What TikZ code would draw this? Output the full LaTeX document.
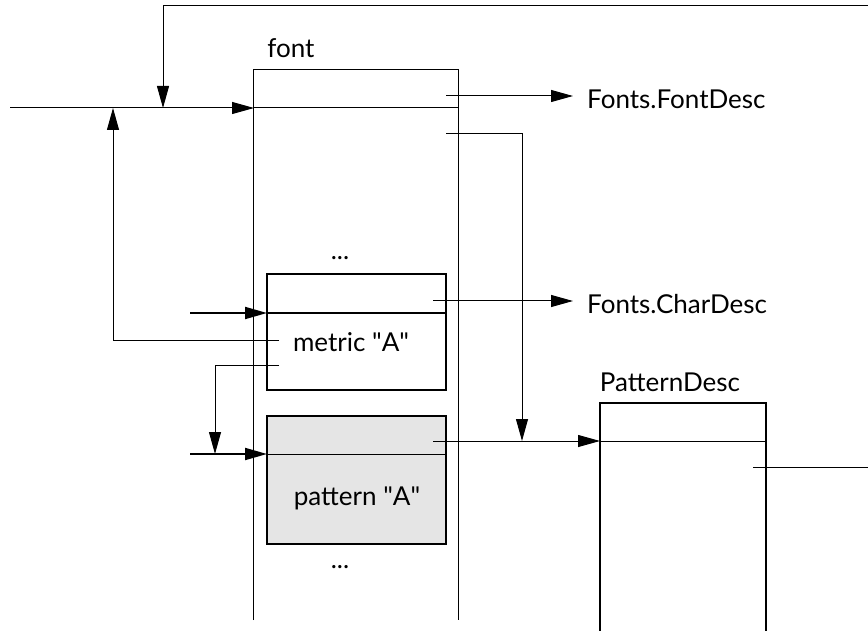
\documentclass[tikz,border=0pt]{standalone}
\usepackage{fontspec}
\setmainfont{Lato}
\usetikzlibrary{arrows.meta}

\begin{document}
\begin{tikzpicture}[x=1pt,y=-1pt]
\tikzstyle{every node}+=[inner sep=0pt,font=\fontsize{26}{30}\selectfont]
\tikzstyle{wire}=[line width=1pt]
\tikzstyle{arr}=[line width=1pt,-{Triangle[length=22pt,width=12pt]}]
\tikzstyle{thickarr}=[line width=2pt,-{Triangle[length=22pt,width=12pt]}]
\tikzstyle{rec}=[draw,line width=2pt,minimum width=179pt]
\useasboundingbox (0,0) rectangle (868,631);
% boxes
\node [minimum width=204pt,minimum height=550pt] (fontbox) at (356,345) {};
\draw [wire] (fontbox.south west) |- (fontbox.north east) -- (fontbox.south east);
\node [anchor=base] (fontlbl) at (291,58) {font};
\node [rec,fill=white,minimum height=116pt] (metric) at (356.5,332) {};
\node [rec,fill=gray!20,minimum height=128pt] (pattern) at (356.5,480) {};
\node [minimum width=166pt,minimum height=240pt] (patdesc) at (683,523) {};
\draw [line width=2pt] (patdesc.south west) |- (patdesc.north east) -- (patdesc.south east);
\node [anchor=base] (patlbl) at (670,391) {PatternDesc};
\node [anchor=base] (metlbl) at (351,351) {metric \textquotedbl A\textquotedbl};
\node [anchor=base] (patalbl) at (357,505) {pattern \textquotedbl A\textquotedbl};
\node (dots1) at (340,258) {...};
\node (dots2) at (340,567) {...};
\node [anchor=base west] (fdesc) at (587,109) {Fonts.FontDesc};
\node [anchor=base west] (cdesc) at (587,313) {Fonts.CharDesc};
% points
\coordinate (in) at (10,108);
\coordinate (fin) at (254,108);
\coordinate (fout) at (458,108);
\coordinate (loop) at (868,6);
\coordinate (j1) at (163,108);
\coordinate (m1) at (279,340);
\coordinate (j2) at (113,108);
\coordinate (m2) at (279,365);
\coordinate (j3) at (215,454);
\coordinate (min) at (190,313);
\coordinate (mdiv) at (267,313);
\coordinate (pin) at (190,454);
\coordinate (pdiv) at (267,454);
\coordinate (f1) at (446,96);
\coordinate (f1e) at (573,96);
\coordinate (f2) at (446,134);
\coordinate (j4) at (522,441);
\coordinate (c1) at (433,301);
\coordinate (c1e) at (573,301);
\coordinate (p1) at (433,441);
\coordinate (pdin) at (600,441);
\coordinate (pd1) at (753,467);
\coordinate (pd2) at (868,467);
% connectors
\draw [arr] (in) -- (fin);
\draw [wire] (fin) -- (fout);
\draw [arr] (loop) -| (j1);
\draw [arr] (m1) -| (j2);
\draw [arr] (m2) -| (j3);
\draw [thickarr] (min) -- (mdiv);
\draw [wire] (mdiv) -- (metric.east |- mdiv);
\draw [thickarr] (pin) -- (pdiv);
\draw [wire] (pdiv) -- (pattern.east |- pdiv);
\draw [arr] (f1) -- (f1e);
\draw [arr] (f2) -| (j4);
\draw [arr] (c1) -- (c1e);
\draw [arr] (p1) -- (pdin);
\draw [wire] (pdin) -- (patdesc.east |- pdin);
\draw [wire] (pd1) -- (pd2);
\end{tikzpicture}
\end{document}
